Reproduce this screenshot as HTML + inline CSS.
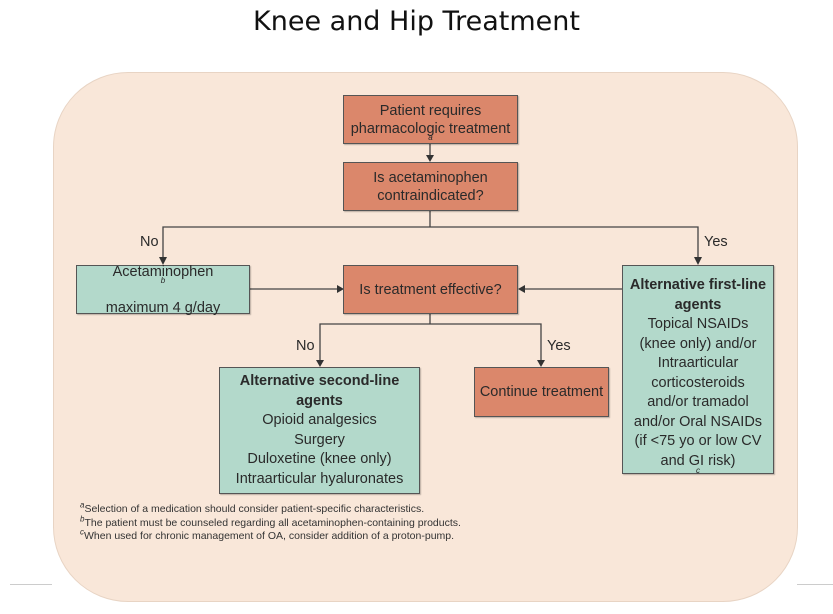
<!DOCTYPE html>
<html><head><meta charset="utf-8"><style>
body{margin:0;width:833px;height:614px;background:#fff;position:relative;overflow:hidden;font-family:"Liberation Sans Narrow","Liberation Sans",sans-serif;}
.t{position:absolute;left:0;width:833px;top:6px;text-align:center;font-family:"DejaVu Sans","Liberation Sans",sans-serif;font-size:27px;color:#111;}
.bg{position:absolute;left:53px;top:72px;width:743px;height:528px;border-radius:75px;background:#f9e7d9;border:1px solid #e8d4c4;}
.b{position:absolute;box-sizing:border-box;border:1.5px solid #555;display:flex;flex-direction:column;justify-content:center;align-items:center;text-align:center;font-size:14.5px;line-height:18px;color:#2a2a2a;box-shadow:1px 1px 1px rgba(0,0,0,.25);}
.o{background:#db876b;}
.g{background:#b3d9cb;}
.l{position:absolute;background:#444;}
.lb{position:absolute;font-size:14.5px;color:#2a2a2a;}
.fn{position:absolute;left:80px;top:503px;font-size:10.5px;line-height:13.5px;color:#333;}
sup{font-size:8px;font-style:italic;line-height:0;}
</style></head><body>
<div class="t">Knee and Hip Treatment</div>
<div style="position:absolute;left:10px;top:584px;width:42px;height:1px;background:#ccc"></div>
<div style="position:absolute;left:797px;top:584px;width:36px;height:1px;background:#ccc"></div>
<div class="bg"></div>
<svg style="position:absolute;left:0;top:0" width="833" height="614">
<g stroke="#444" stroke-width="1.3" fill="none">
<path d="M430 143V160M430 210V227H163V263M430 227H698V263M249 289H340M623 289H522M430 313V324H320V365M430 324H541V365"/>
</g>
<g fill="#333">
<path d="M426 155L434 155L430 162Z"/>
<path d="M159 257L167 257L163 265Z"/>
<path d="M694 257L702 257L698 265Z"/>
<path d="M337 285L337 293L344 289Z"/>
<path d="M525 285L525 293L518 289Z"/>
<path d="M316 360L324 360L320 367Z"/>
<path d="M537 360L545 360L541 367Z"/>
</g>
</svg>
<div class="b o" style="left:343px;top:95px;width:175px;height:49px">Patient requires<br>pharmacologic treatment<sup>a</sup></div>
<div class="b o" style="left:343px;top:162px;width:175px;height:49px">Is acetaminophen<br>contraindicated?</div>
<div class="b g" style="left:76px;top:265px;width:174px;height:49px">Acetaminophen<sup>b</sup><br>maximum 4 g/day</div>
<div class="b o" style="left:343px;top:265px;width:175px;height:49px">Is treatment effective?</div>
<div class="b g" style="left:622px;top:265px;width:152px;height:209px;justify-content:flex-start;padding-top:10px;line-height:19.5px"><b>Alternative first-line<br>agents</b>Topical NSAIDs<br>(knee only) and/or<br>Intraarticular<br>corticosteroids<br>and/or tramadol<br>and/or Oral NSAIDs<br>(if &lt;75 yo or low CV<br>and GI risk)<sup>c</sup></div>
<div class="b g" style="left:219px;top:367px;width:201px;height:127px;line-height:19.5px"><b>Alternative second-line<br>agents</b>Opioid analgesics<br>Surgery<br>Duloxetine (knee only)<br>Intraarticular hyaluronates</div>
<div class="b o" style="left:474px;top:367px;width:135px;height:50px">Continue treatment</div>
<div class="lb" style="left:140px;top:234px">No</div>
<div class="lb" style="left:704px;top:234px">Yes</div>
<div class="lb" style="left:296px;top:338px">No</div>
<div class="lb" style="left:547px;top:338px">Yes</div>
<div class="fn"><sup>a</sup>Selection of a medication should consider patient-specific characteristics.<br><sup>b</sup>The patient must be counseled regarding all acetaminophen-containing products.<br><sup>c</sup>When used for chronic management of OA, consider addition of a proton-pump.</div>
</body></html>
